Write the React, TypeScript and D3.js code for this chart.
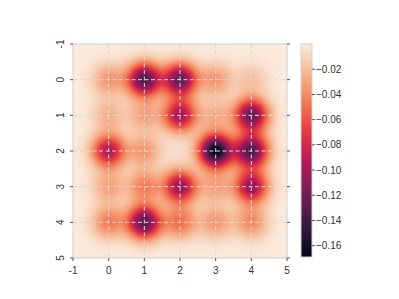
import * as d3 from 'd3'
import { useMemo } from 'react'

// grid point positions
const gridX = [0, 1, 2, 3, 4]
const gridY = [0, 1, 2, 3, 4]

// blob strength at each grid point, one array per row (y = 0..4)
const row0 = [-0.035, -0.135, -0.125, -0.035, -0.018]
const row1 = [-0.025, -0.03, -0.1, -0.025, -0.125]
const row2 = [-0.095, -0.035, -0.003, -0.169, -0.135]
const row3 = [-0.03, -0.045, -0.105, -0.03, -0.105]
const row4 = [-0.045, -0.13, -0.05, -0.035, -0.04]
const rows = [row0, row1, row2, row3, row4]

const axisTicks = [-1, 0, 1, 2, 3, 4, 5]
const cbTicks = [-0.02, -0.04, -0.06, -0.08, -0.1, -0.12, -0.14, -0.16]
const vMin = -0.169
const vMax = 0

// seaborn "rocket"
const rocketStops = ['#03051a', '#35193e', '#701f57', '#ad1759', '#e13342', '#f37651', '#f6b48f', '#faebdd']
const rocket = d3.piecewise(d3.interpolateRgb, rocketStops)

const sigma = 0.32
const W = 399
const H = 299
const plot = { left: 73, top: 44, size: 214 }
const cb = { left: 301, top: 44, width: 11, height: 213 }
const font = '"Liberation Sans", Arial, sans-serif'

const fieldAt = (px: number, py: number) => {
  let v = 0
  rows.forEach((r, j) => {
    r.forEach((a, i) => {
      const dx = px - gridX[i]
      const dy = py - gridY[j]
      v += a * Math.exp(-(dx * dx + dy * dy) / (2 * sigma * sigma))
    })
  })
  return v
}

const App = () => {
  const x = d3.scaleLinear().domain([-1, 5]).range([plot.left, plot.left + plot.size])
  const y = d3.scaleLinear().domain([-1, 5]).range([plot.top, plot.top + plot.size])
  const color = d3.scaleSequential((t: number) => rocket(t)).domain([vMin, vMax]).clamp(true)
  const cy = d3.scaleLinear().domain([vMin, vMax]).range([cb.top + cb.height, cb.top])

  const url = useMemo(() => {
    const n = 107
    const canvas = document.createElement('canvas')
    canvas.width = n
    canvas.height = n
    const ctx = canvas.getContext('2d')
    if (!ctx) return ''
    const img = ctx.createImageData(n, n)
    for (let j = 0; j < n; j++) {
      for (let i = 0; i < n; i++) {
        const px = -1 + ((i + 0.5) / n) * 6
        const py = -1 + ((j + 0.5) / n) * 6
        const c = d3.rgb(color(fieldAt(px, py)))
        const k = (j * n + i) * 4
        img.data[k] = c.r
        img.data[k + 1] = c.g
        img.data[k + 2] = c.b
        img.data[k + 3] = 255
      }
    }
    ctx.putImageData(img, 0, 0)
    return canvas.toDataURL()
  }, [])

  const gradStops = d3.range(0, 1.0001, 0.05)
  const fmt = (v: number) => v.toFixed(2).replace('-', '\u2212')

  return (
    <svg width={W} height={H} style={{ position: 'absolute', left: 0, top: 0 }}>
      <defs>
        <linearGradient id="cbgrad" x1="0" y1="1" x2="0" y2="0">
          {gradStops.map((t) => (
            <stop key={t} offset={t} stopColor={rocket(t)} />
          ))}
        </linearGradient>
      </defs>
      <image href={url} x={plot.left} y={plot.top} width={plot.size} height={plot.size}
        preserveAspectRatio="none" />
      {gridX.map((g) => (
        <line key={'gx' + g} x1={x(g)} x2={x(g)} y1={plot.top} y2={plot.top + plot.size}
          stroke="#d8d8d8" strokeDasharray="4,2.5" strokeWidth={1} />
      ))}
      {gridY.map((g) => (
        <line key={'gy' + g} y1={y(g)} y2={y(g)} x1={plot.left} x2={plot.left + plot.size}
          stroke="#d8d8d8" strokeDasharray="4,2.5" strokeWidth={1} />
      ))}
      <rect x={plot.left} y={plot.top} width={plot.size} height={plot.size}
        fill="none" stroke="#cfcfcf" strokeWidth={1} />
      {axisTicks.map((t) => (
        <g key={'t' + t}>
          <line x1={x(t)} x2={x(t)} y1={plot.top + plot.size} y2={plot.top + plot.size + 3} stroke="#555" />
          <line x1={plot.left - 3} x2={plot.left} y1={y(t)} y2={y(t)} stroke="#555" />
          <line x1={plot.left + plot.size} x2={plot.left + plot.size + 3} y1={y(t)} y2={y(t)} stroke="#555" />
          <text x={x(t)} y={plot.top + plot.size + 16} textAnchor="middle" fontFamily={font}
            fontSize={10} fill="#333">{t}</text>
          <text transform={`translate(${plot.left - 9},${y(t)}) rotate(-90)`} textAnchor="middle"
            fontFamily={font} fontSize={10} fill="#333">{t}</text>
        </g>
      ))}
      <rect x={cb.left} y={cb.top} width={cb.width} height={cb.height} fill="url(#cbgrad)"
        stroke="#d0d0d0" strokeWidth={1} />
      {cbTicks.map((t) => (
        <g key={'c' + t}>
          <line x1={cb.left + cb.width} x2={cb.left + cb.width + 3} y1={cy(t)} y2={cy(t)} stroke="#555" />
          <text x={cb.left + cb.width + 4} y={cy(t) + 3.5} fontFamily={font} fontSize={10} fill="#333">
            {fmt(t)}
          </text>
        </g>
      ))}
    </svg>
  )
}

export default App
